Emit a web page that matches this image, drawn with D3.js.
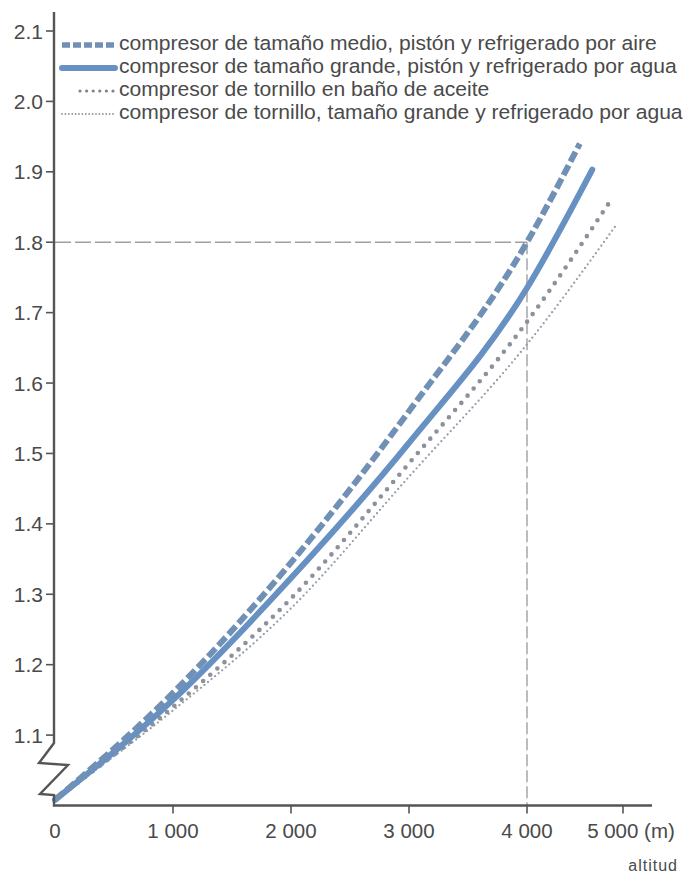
<!DOCTYPE html>
<html>
<head>
<meta charset="utf-8">
<script src="https://cdn.jsdelivr.net/npm/d3@7/dist/d3.min.js"></script>
<style>
  html, body { margin: 0; padding: 0; background: #fff; }
  svg { display: block; }
  text { font-family: "Liberation Sans", Arial, sans-serif; fill: #4a4a4a; }
</style>
</head>
<body>
<svg id="chart" width="688" height="874"></svg>
<script>
// ---- data ----
const yTicks = [1.1, 1.2, 1.3, 1.4, 1.5, 1.6, 1.7, 1.8, 1.9, 2.0, 2.1];
const xTicks = [0, 1000, 2000, 3000, 4000, 5000];
const xTickLabels = ["0", "1 000", "2 000", "3 000", "4 000", "5 000 (m)"];
const xTitle = "altitud";

const legendLabels = [
  "compresor de tamaño medio, pistón y refrigerado por aire",
  "compresor de tamaño grande, pistón y refrigerado por agua",
  "compresor de tornillo en baño de aceite",
  "compresor de tornillo, tamaño grande y refrigerado por agua"
];

const altMedioAire = [0, 1000, 2000, 3000, 4000, 4550];
const valMedioAire = [1.008, 1.16, 1.345, 1.56, 1.80, 1.94];

const altGrandeAgua = [0, 1000, 2000, 3000, 4000, 4680];
const valGrandeAgua = [1.008, 1.15, 1.323, 1.515, 1.735, 1.903];

const altTornilloAceite = [0, 1000, 2000, 3000, 4000, 4865];
const valTornilloAceite = [1.008, 1.14, 1.294, 1.486, 1.687, 1.858];

const altTornilloAgua = [0, 1000, 2000, 3000, 4000, 4917];
const valTornilloAgua = [1.008, 1.135, 1.28, 1.467, 1.655, 1.822];

const refAltitude = 4000;
const refFactor = 1.8;

// ---- drawing ----
const svg = d3.select("#chart");
svg.append("rect").attr("width", 688).attr("height", 874).attr("fill", "#fff");

const x = d3.scaleLinear().domain([0, 4000, 5000]).range([55, 527, 623]);
const y = d3.scaleLinear().domain([1.0, 2.1]).range([805.5, 31]);

const axisColor = "#555";

// reference guide lines
svg.append("line")
  .attr("x1", x(0)).attr("x2", x(refAltitude))
  .attr("y1", y(refFactor)).attr("y2", y(refFactor))
  .attr("stroke", "#a0a0a0").attr("stroke-width", 1.4)
  .attr("stroke-dasharray", "16,4");
svg.append("line")
  .attr("x1", x(refAltitude)).attr("x2", x(refAltitude))
  .attr("y1", y(refFactor)).attr("y2", y(1.0))
  .attr("stroke", "#a0a0a0").attr("stroke-width", 1.4)
  .attr("stroke-dasharray", "12,4");

// series
const series = [
  { alts: altTornilloAgua, vals: valTornilloAgua, color: "#979daa", width: 2.3, dash: "0,4.6", cap: "round" },
  { alts: altTornilloAceite, vals: valTornilloAceite, color: "#8c919b", width: 4.6, dash: "0,9.5", cap: "round" },
  { alts: altGrandeAgua, vals: valGrandeAgua, color: "#6790c3", width: 6, dash: null, cap: "round" },
  { alts: altMedioAire, vals: valMedioAire, color: "#7090b5", width: 6, dash: "11,4", cap: "butt" }
];

const line = d3.line()
  .x(d => x(d[0]))
  .y(d => y(d[1]))
  .curve(d3.curveMonotoneX);

series.forEach(s => {
  const pts = s.alts.map((a, i) => [a, s.vals[i]]);
  const p = svg.append("path")
    .attr("d", line(pts))
    .attr("fill", "none")
    .attr("stroke", s.color)
    .attr("stroke-width", s.width)
    .attr("stroke-linecap", s.cap);
  if (s.dash) p.attr("stroke-dasharray", s.dash);
});

// y axis with break symbol, x axis
svg.append("path")
  .attr("d", `M54,12 V743 L39,763 L68,765 L40,794 L54,795 V${y(1.0)} H652`)
  .attr("fill", "none")
  .attr("stroke", axisColor)
  .attr("stroke-width", 2.4)
  .attr("stroke-linejoin", "miter");

// y ticks
const yt = svg.append("g");
yt.selectAll("line").data(yTicks).join("line")
  .attr("x1", 46).attr("x2", 54)
  .attr("y1", d => y(d)).attr("y2", d => y(d))
  .attr("stroke", axisColor).attr("stroke-width", 1.6);
yt.selectAll("text").data(yTicks).join("text")
  .attr("x", 43).attr("y", d => y(d) + 7.5)
  .attr("text-anchor", "end")
  .attr("font-size", 21)
  .text(d => d.toFixed(1));

// x ticks
const xt = svg.append("g");
xt.selectAll("line").data(xTicks.filter(d => d > 0)).join("line")
  .attr("x1", d => x(d)).attr("x2", d => x(d))
  .attr("y1", y(1.0)).attr("y2", y(1.0) + 8)
  .attr("stroke", axisColor).attr("stroke-width", 1.6);
xt.selectAll("text").data(xTicks).join("text")
  .attr("x", (d, i) => x(d) + (i === xTicks.length - 1 ? 8 : 0))
  .attr("y", 838)
  .attr("text-anchor", "middle")
  .attr("font-size", 20.5)
  .text((d, i) => xTickLabels[i]);

svg.append("text")
  .attr("x", 678).attr("y", 871)
  .attr("text-anchor", "end")
  .attr("font-size", 16)
  .attr("letter-spacing", 1)
  .text(xTitle);

// legend
const legendY = [44, 67, 90, 113];
const legend = svg.append("g");
const swatch = [
  { x1: 62, color: "#7090b5", width: 5.5, dash: "8,3", cap: "butt" },
  { x1: 62, color: "#6790c3", width: 6, dash: null, cap: "round" },
  { x1: 80, color: "#7d828c", width: 3.2, dash: "0,6.6", cap: "round" },
  { x1: 62, color: "#8c919b", width: 1.8, dash: "0,3.4", cap: "round" }
];
legendLabels.forEach((lab, i) => {
  const sw = swatch[i];
  const l = legend.append("line")
    .attr("x1", sw.x1).attr("x2", 115)
    .attr("y1", legendY[i] + 1).attr("y2", legendY[i] + 1)
    .attr("stroke", sw.color).attr("stroke-width", sw.width)
    .attr("stroke-linecap", sw.cap);
  if (sw.dash) l.attr("stroke-dasharray", sw.dash);
});
const texts = legend.selectAll("text").data(legendLabels).join("text")
  .attr("x", 119)
  .attr("y", (d, i) => legendY[i] + 6)
  .attr("font-size", 17)
  .text(d => d);
// fit font size so the longest line spans the same width as in the reference
const w = texts.nodes()[3].getComputedTextLength();
const fs = 17 * (683 - 119) / w;
texts.attr("font-size", fs);
</script>
</body>
</html>
